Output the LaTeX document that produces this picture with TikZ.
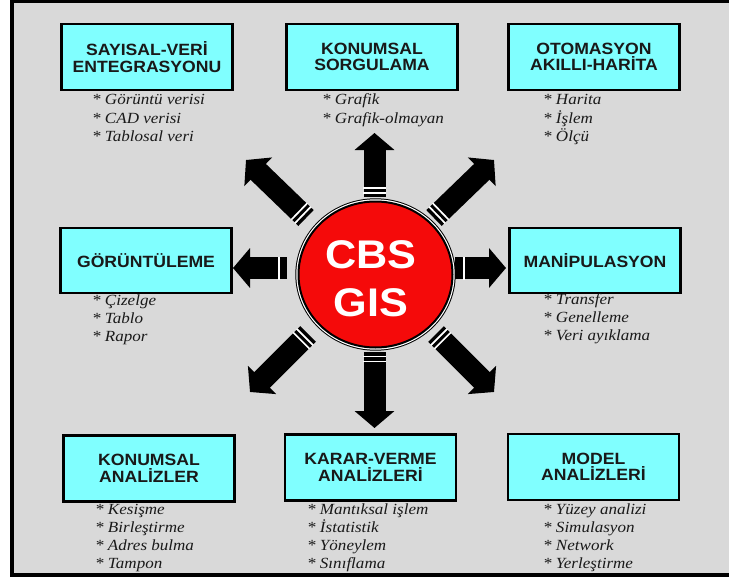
\documentclass[tikz,border=0pt]{standalone}
\usepackage{fontspec}
\usetikzlibrary{arrows.meta,calc,shapes.geometric}
\newfontfamily\titlefont[FakeStretch=1.08]{Liberation Sans}
\newfontfamily\notefont[FakeStretch=1.1]{Liberation Serif}
\definecolor{panelgray}{HTML}{D9D9D9}
\definecolor{boxcyan}{HTML}{80FFFF}
\definecolor{hubred}{HTML}{F50A0A}
\definecolor{notegray}{HTML}{1A1A1A}

\tikzset{
  titlebox/.style={draw=black, line width=2.5pt, fill=boxcyan,
    minimum width=171pt, minimum height=66pt, inner sep=0pt, align=center,
    font=\titlefont\bfseries\fontsize{16.3}{16.5}\selectfont, text=black!90},
  notetext/.style={anchor=base west, inner sep=0pt,
    font=\notefont\itshape\fontsize{15.5}{18}\selectfont, text=notegray},
  fatshaft/.style={line width=22pt, -{Triangle[length=17pt,width=39pt]}},
  hubdisc/.style={ellipse, minimum width=154pt, minimum height=146pt,
    fill=hubred, draw=black, line width=2pt},
  hublabel/.style={align=center, text=white, inner sep=0pt,
    font=\titlefont\bfseries\fontsize{40}{48}\selectfont},
}

% thick arrow from tail to tip, with white bands across the shaft near the tail
\newcommand\fatarrow[3]{%
  \draw[fatshaft] (#1) -- (#2);
  \foreach \a/\b in {#3}
    \draw[white, line width=23pt] ($(#1)!\a!(#2)$) -- ($(#1)!\b!(#2)$);
}

% list of italic notes below a title box; #1 is the first baseline point
\newcommand\notelist[3]{%
  \foreach \t [count=\i] in {#3}
    \node[notetext, yshift={-18.3*(\i-1)}] (#2-\i) at (#1) {* \t};
}

\begin{document}
\begin{tikzpicture}[x=1pt,y=-1pt]
\useasboundingbox (0,0) rectangle (729,586);
\fill[white] (0,0) rectangle (729,586);
\draw[line width=4pt, fill=panelgray] (11.7,1) rectangle (745,574.7);

% arrow end points
\coordinate (upT) at (374.5,197);  \coordinate (upP) at (374.5,133);
\coordinate (dnT) at (374.5,352);  \coordinate (dnP) at (374.5,428);
\coordinate (lfT) at (287,268);    \coordinate (lfP) at (233,268);
\coordinate (rtT) at (455,268);    \coordinate (rtP) at (506,268);
\coordinate (nwT) at (306,218);    \coordinate (nwP) at (246,160);
\coordinate (neT) at (434,218);    \coordinate (neP) at (494,160);
\coordinate (swT) at (308,334);    \coordinate (swP) at (250,392);
\coordinate (seT) at (436,334);    \coordinate (seP) at (494,392);

\fatarrow{upT}{upP}{3.5pt/5.2pt, 8.5pt/10.2pt}
\fatarrow{dnT}{dnP}{3.5pt/5.2pt, 8.5pt/10.2pt}
\fatarrow{nwT}{nwP}{3.5pt/5.2pt, 8.5pt/10.2pt}
\fatarrow{neT}{neP}{3.5pt/5.2pt, 8.5pt/10.2pt}
\fatarrow{swT}{swP}{3.5pt/5.2pt, 8.5pt/10.2pt}
\fatarrow{seT}{seP}{3.5pt/5.2pt, 8.5pt/10.2pt}
\fatarrow{lfT}{lfP}{7.5pt/9.5pt}
\fatarrow{rtT}{rtP}{7.5pt/9.5pt}

% central disc with its double rim
\fill[black] (375.5,274.5) ellipse [x radius=80.2pt, y radius=76.2pt];
\fill[white] (375.5,274.5) ellipse [x radius=79.2pt, y radius=75.2pt];
\node[hubdisc] (hub) at (375.5,274.5) {};
\node[hublabel] (hubtext) at (371,278.5) {CBS\\GIS};

% title boxes
\node[titlebox] (sayisal) at (147,57)    {SAYISAL-VERİ\\ENTEGRASYONU};
\node[titlebox] (sorgu)   at (372,57)    {KONUMSAL\\SORGULAMA};
\node[titlebox] (otomas)  at (594,57)    {OTOMASYON\\AKILLI-HARİTA};
\node[titlebox, minimum height=65pt] (goruntu) at (146,260.5) {GÖRÜNTÜLEME};
\node[titlebox, minimum height=65pt] (manip)   at (595,260.5) {MANİPULASYON};
\node[titlebox] (analiz)  at (149,468.5) {KONUMSAL\\ANALİZLER};
\node[titlebox] (karar)   at (370.5,467.5) {KARAR-VERME\\ANALİZLERİ};
\node[titlebox] (model)   at (593.5,467) {MODEL\\ANALİZLERİ};

% notes
\notelist{92,105}{nsay}{Görüntü verisi, CAD verisi, Tablosal veri}
\notelist{322,105}{nsor}{Grafik, Grafik-olmayan}
\notelist{543,105}{noto}{Harita, İşlem, Ölçü}
\notelist{92,305}{ngor}{Çizelge, Tablo, Rapor}
\notelist{543,304}{nman}{Transfer, Genelleme, Veri ayıklama}
\notelist{95,514}{nana}{Kesişme, Birleştirme, Adres bulma, Tampon}
\notelist{307,514}{nkar}{Mantıksal işlem, İstatistik, Yöneylem, Sınıflama}
\notelist{543,514}{nmod}{Yüzey analizi, Simulasyon, Network, Yerleştirme}
\end{tikzpicture}
\end{document}
